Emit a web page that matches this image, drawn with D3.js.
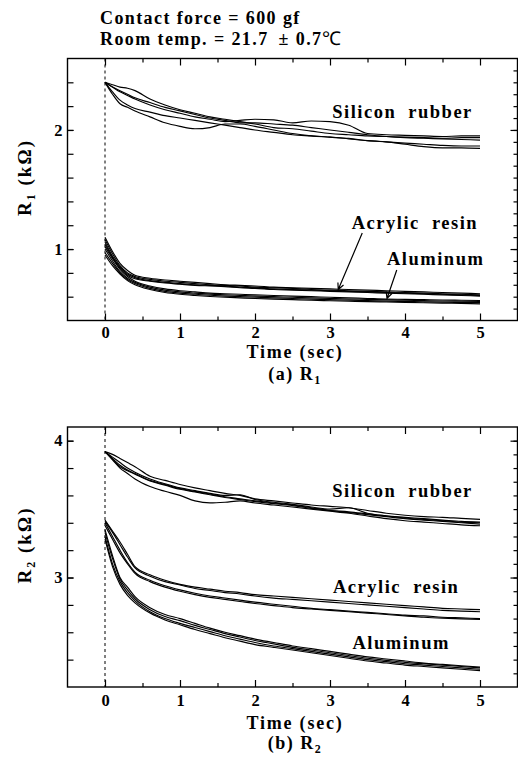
<!DOCTYPE html>
<html>
<head>
<meta charset="utf-8">
<script src="https://cdn.jsdelivr.net/npm/d3@7/dist/d3.min.js"></script>
<style>
    body { margin: 0; background: #fff; }
    svg text { font-family: "Liberation Serif", "Times New Roman", serif; font-weight: bold; fill: #000; }
</style>
</head>
<body>
<svg id="chart" width="518" height="759"></svg>
<script>
// sample times (sec), shared by every trace
var time = [0, 0.1, 0.2, 0.3, 0.4, 0.6, 0.8, 1.0, 1.2, 1.4, 1.6, 1.8, 2.0, 2.25, 2.5, 2.75, 3.0, 3.25, 3.5, 3.75, 4.0, 4.25, 4.5, 4.75, 5.0];

// (a) R1, kOhm
var r1Silicon = [
    [2.40, 2.36, 2.32, 2.29, 2.26, 2.21, 2.17, 2.14, 2.11, 2.09, 2.07, 2.08, 2.09, 2.085, 2.06, 2.075, 2.07, 2.04, 1.97, 1.96, 1.955, 1.95, 1.945, 1.95, 1.95],
    [2.40, 2.30, 2.22, 2.19, 2.16, 2.11, 2.06, 2.03, 2.01, 2.02, 2.05, 2.05, 2.03, 2.00, 1.97, 1.95, 1.94, 1.93, 1.91, 1.90, 1.88, 1.86, 1.85, 1.85, 1.845],
    [2.40, 2.32, 2.25, 2.21, 2.18, 2.15, 2.12, 2.10, 2.08, 2.06, 2.04, 2.02, 2.00, 1.98, 1.96, 1.95, 1.94, 1.925, 1.91, 1.90, 1.89, 1.88, 1.87, 1.865, 1.865],
    [2.40, 2.38, 2.36, 2.35, 2.33, 2.26, 2.21, 2.17, 2.14, 2.11, 2.09, 2.07, 2.05, 2.02, 2.01, 1.99, 1.97, 1.96, 1.95, 1.945, 1.94, 1.935, 1.93, 1.935, 1.935],
    [2.40, 2.36, 2.33, 2.30, 2.27, 2.23, 2.19, 2.16, 2.13, 2.10, 2.08, 2.06, 2.06, 2.05, 2.04, 2.02, 2.00, 1.98, 1.96, 1.945, 1.935, 1.93, 1.925, 1.92, 1.915]
];
var r1Acrylic = [
    [1.10, 0.98, 0.88, 0.82, 0.78, 0.755, 0.74, 0.73, 0.72, 0.71, 0.70, 0.695, 0.69, 0.68, 0.675, 0.67, 0.665, 0.66, 0.655, 0.65, 0.645, 0.64, 0.635, 0.63, 0.625],
    [1.08, 0.96, 0.86, 0.80, 0.77, 0.745, 0.73, 0.72, 0.71, 0.70, 0.695, 0.69, 0.68, 0.675, 0.67, 0.66, 0.655, 0.65, 0.645, 0.64, 0.635, 0.63, 0.625, 0.62, 0.615],
    [1.06, 0.94, 0.85, 0.79, 0.76, 0.735, 0.72, 0.71, 0.70, 0.695, 0.69, 0.68, 0.675, 0.665, 0.66, 0.655, 0.65, 0.645, 0.64, 0.635, 0.63, 0.625, 0.62, 0.615, 0.61],
    [1.04, 0.93, 0.84, 0.78, 0.75, 0.73, 0.715, 0.705, 0.695, 0.69, 0.685, 0.675, 0.67, 0.66, 0.655, 0.65, 0.645, 0.64, 0.635, 0.63, 0.625, 0.62, 0.615, 0.61, 0.605]
];
var r1Aluminum = [
    [1.02, 0.92, 0.83, 0.77, 0.73, 0.69, 0.665, 0.65, 0.64, 0.63, 0.625, 0.62, 0.615, 0.61, 0.605, 0.60, 0.595, 0.59, 0.585, 0.58, 0.578, 0.575, 0.572, 0.57, 0.568],
    [1.00, 0.90, 0.81, 0.755, 0.72, 0.68, 0.655, 0.64, 0.63, 0.622, 0.615, 0.61, 0.605, 0.60, 0.595, 0.59, 0.585, 0.58, 0.577, 0.573, 0.57, 0.567, 0.564, 0.562, 0.56],
    [0.97, 0.88, 0.80, 0.745, 0.71, 0.67, 0.645, 0.63, 0.62, 0.612, 0.605, 0.60, 0.595, 0.59, 0.585, 0.58, 0.575, 0.57, 0.567, 0.563, 0.56, 0.557, 0.554, 0.552, 0.55],
    [0.95, 0.86, 0.79, 0.735, 0.70, 0.66, 0.635, 0.62, 0.61, 0.602, 0.595, 0.59, 0.585, 0.58, 0.575, 0.57, 0.566, 0.562, 0.558, 0.555, 0.552, 0.549, 0.546, 0.543, 0.54]
];

// (b) R2, kOhm
var r2Silicon = [
    [3.92, 3.90, 3.87, 3.84, 3.81, 3.74, 3.71, 3.68, 3.655, 3.635, 3.615, 3.60, 3.575, 3.56, 3.545, 3.53, 3.52, 3.51, 3.49, 3.47, 3.455, 3.445, 3.44, 3.432, 3.425],
    [3.92, 3.86, 3.80, 3.76, 3.72, 3.665, 3.63, 3.60, 3.56, 3.545, 3.55, 3.56, 3.545, 3.53, 3.515, 3.50, 3.485, 3.47, 3.45, 3.43, 3.415, 3.405, 3.395, 3.385, 3.378],
    [3.92, 3.88, 3.84, 3.80, 3.77, 3.72, 3.685, 3.655, 3.635, 3.615, 3.60, 3.605, 3.57, 3.55, 3.535, 3.515, 3.50, 3.51, 3.47, 3.45, 3.435, 3.425, 3.415, 3.405, 3.40],
    [3.92, 3.87, 3.82, 3.785, 3.76, 3.71, 3.68, 3.65, 3.63, 3.61, 3.59, 3.575, 3.56, 3.545, 3.53, 3.51, 3.49, 3.475, 3.46, 3.445, 3.43, 3.42, 3.41, 3.40, 3.39],
    [3.92, 3.865, 3.81, 3.78, 3.755, 3.705, 3.675, 3.645, 3.625, 3.605, 3.585, 3.57, 3.555, 3.54, 3.525, 3.505, 3.49, 3.48, 3.465, 3.45, 3.44, 3.43, 3.42, 3.41, 3.405]
];
var r2Acrylic = [
    [3.42, 3.34, 3.26, 3.17, 3.08, 3.02, 2.98, 2.95, 2.93, 2.915, 2.90, 2.89, 2.875, 2.865, 2.855, 2.845, 2.835, 2.825, 2.815, 2.805, 2.795, 2.785, 2.775, 2.77, 2.765],
    [3.41, 3.33, 3.24, 3.15, 3.07, 3.01, 2.97, 2.945, 2.92, 2.905, 2.89, 2.88, 2.865, 2.85, 2.84, 2.83, 2.82, 2.81, 2.80, 2.79, 2.78, 2.77, 2.76, 2.755, 2.75],
    [3.40, 3.30, 3.20, 3.11, 3.04, 2.98, 2.94, 2.91, 2.885, 2.865, 2.85, 2.835, 2.82, 2.805, 2.79, 2.775, 2.765, 2.755, 2.745, 2.735, 2.725, 2.72, 2.71, 2.705, 2.70],
    [3.38, 3.28, 3.18, 3.10, 3.03, 2.97, 2.93, 2.90, 2.875, 2.855, 2.84, 2.825, 2.81, 2.795, 2.78, 2.77, 2.76, 2.75, 2.74, 2.73, 2.72, 2.71, 2.703, 2.698, 2.693]
];
var r2Aluminum = [
    [3.35, 3.16, 3.00, 2.93, 2.86, 2.78, 2.73, 2.70, 2.665, 2.63, 2.60, 2.575, 2.55, 2.525, 2.50, 2.48, 2.46, 2.44, 2.42, 2.405, 2.39, 2.375, 2.365, 2.355, 2.345],
    [3.33, 3.14, 2.99, 2.91, 2.845, 2.765, 2.715, 2.685, 2.65, 2.62, 2.59, 2.565, 2.54, 2.515, 2.49, 2.47, 2.45, 2.43, 2.41, 2.395, 2.38, 2.37, 2.36, 2.35, 2.34],
    [3.30, 3.10, 2.97, 2.89, 2.83, 2.75, 2.70, 2.665, 2.635, 2.605, 2.575, 2.55, 2.525, 2.50, 2.48, 2.46, 2.44, 2.42, 2.40, 2.385, 2.37, 2.36, 2.35, 2.34, 2.33],
    [3.28, 3.08, 2.95, 2.87, 2.815, 2.74, 2.69, 2.655, 2.62, 2.59, 2.56, 2.535, 2.51, 2.49, 2.47, 2.45, 2.43, 2.41, 2.39, 2.375, 2.36, 2.35, 2.34, 2.33, 2.32]
];

// ticks
var xTickLabels = [0, 1, 2, 3, 4, 5];
var xMinorTicks = [0.5, 1.5, 2.5, 3.5, 4.5];
var r1TickLabels = [1, 2];
var r2TickLabels = [3, 4];

var svg = d3.select("#chart");

// header text
svg.append("text").attr("x", 100).attr("y", 24)
    .style("font-size", "18px").style("letter-spacing", "1.4px")
    .text("Contact force = 600 gf");
var head2 = svg.append("text").attr("x", 100).attr("y", 45)
    .style("font-size", "18px").style("letter-spacing", "1.4px");
head2.append("tspan").text("Room temp. = 21.7");
head2.append("tspan").attr("dx", 10).text("± 0.7");
head2.append("tspan").style("font-weight", "normal").style("font-size", "19px").text("℃");

function drawPanel(p) {
    var x = d3.scaleLinear().domain([-0.5, 5.5]).range([67.5, 517.5]);
    var y = d3.scaleLinear().domain(p.yDomain).range([p.bottom, p.top]);
    var g = svg.append("g");

    // frame
    g.append("rect")
        .attr("x", x(-0.5)).attr("y", y(p.yDomain[1]))
        .attr("width", x(5.5) - x(-0.5)).attr("height", y(p.yDomain[0]) - y(p.yDomain[1]))
        .attr("fill", "none").attr("stroke", "#000").attr("stroke-width", 1.4);

    // dashed zero line
    g.append("line")
        .attr("x1", x(0)).attr("x2", x(0))
        .attr("y1", y(p.yDomain[1])).attr("y2", y(p.yDomain[0]))
        .attr("stroke", "#000").attr("stroke-width", 1).attr("stroke-dasharray", "3,3");

    function axis(gen, tr, vals, size, pad, labels) {
        var a = g.append("g").attr("transform", tr)
            .call(gen.tickValues(vals).tickSize(size).tickPadding(pad)
                .tickFormat(labels ? d3.format("d") : ""));
        a.select(".domain").remove();
        a.selectAll(".tick line").attr("stroke-width", 1.2);
        a.selectAll("text").style("font-size", "16.5px")
            .style("font-family", "'Liberation Serif', serif").style("font-weight", "bold");
        return a;
    }
    var yb = y(p.yDomain[0]), yt = y(p.yDomain[1]);
    axis(d3.axisBottom(x), "translate(0," + yb + ")", xTickLabels, -7, p.xPad, true);
    axis(d3.axisBottom(x), "translate(0," + yb + ")", xMinorTicks, -4, 0, false);
    axis(d3.axisTop(x), "translate(0," + yt + ")", xTickLabels, -7, 0, false);
    axis(d3.axisTop(x), "translate(0," + yt + ")", xMinorTicks, -4, 0, false);
    axis(d3.axisLeft(y), "translate(" + x(-0.5) + ",0)", p.yLabels, -6, 5, true);
    axis(d3.axisLeft(y), "translate(" + x(-0.5) + ",0)", p.yLeftMinor, -6, 0, false);
    axis(d3.axisRight(y), "translate(" + x(5.5) + ",0)", p.yLabels, -7, 0, false);
    axis(d3.axisRight(y), "translate(" + x(5.5) + ",0)", p.yRightMinor, -4, 0, false);

    // traces
    var line = d3.line()
        .x(function(d, i) { return x(time[i]); })
        .y(function(d) { return y(d); })
        .curve(d3.curveMonotoneX);
    p.series.forEach(function(group) {
        g.selectAll(null).data(group).enter().append("path")
            .attr("d", line)
            .attr("fill", "none").attr("stroke", "#000").attr("stroke-width", 1.15);
    });

    // material labels
    p.labels.forEach(function(l) {
        g.append("text").attr("x", x(l.t)).attr("y", y(l.v))
            .style("font-size", "18.5px").style("letter-spacing", "1.5px").style("word-spacing", "6px")
            .text(l.text);
    });

    // arrows
    p.arrows.forEach(function(a) {
        var x1 = x(a.from[0]), y1 = y(a.from[1]), x2 = x(a.to[0]), y2 = y(a.to[1]);
        var ang = Math.atan2(y2 - y1, x2 - x1), h = 7, w = 0.45;
        g.append("path")
            .attr("d", "M" + x1 + "," + y1 + "L" + x2 + "," + y2 +
                "M" + (x2 - h * Math.cos(ang - w)) + "," + (y2 - h * Math.sin(ang - w)) +
                "L" + x2 + "," + y2 +
                "L" + (x2 - h * Math.cos(ang + w)) + "," + (y2 - h * Math.sin(ang + w)))
            .attr("fill", "none").attr("stroke", "#000").attr("stroke-width", 1.2);
    });

    // axis titles
    var cy = (yt + yb) / 2 - 12;
    var yl = g.append("text")
        .attr("transform", "translate(31," + cy + ") rotate(-90)")
        .attr("text-anchor", "middle")
        .style("font-size", "19px").style("letter-spacing", "2px");
    yl.append("tspan").text("R");
    yl.append("tspan").attr("dy", 4).style("font-size", "12px").text(p.sub);
    yl.append("tspan").attr("dy", -4).text(" (k\u03a9)");

    g.append("text").attr("x", 295).attr("y", p.timeY).attr("text-anchor", "middle")
        .style("font-size", "18px").style("letter-spacing", "1.8px")
        .text("Time (sec)");
    var cap = g.append("text").attr("x", 295).attr("y", p.capY).attr("text-anchor", "middle")
        .style("font-size", "18px").style("letter-spacing", "1.5px");
    cap.append("tspan").text(p.caption + " R");
    cap.append("tspan").attr("dy", 4).style("font-size", "12px").text(p.sub);
}

drawPanel({
    yDomain: [0.4, 2.6], top: 58.5, bottom: 320.5,
    yLabels: r1TickLabels,
    yLeftMinor: d3.range(0.6, 2.5, 0.2),
    yRightMinor: d3.range(0.5, 2.55, 0.1),
    series: [r1Silicon, r1Acrylic, r1Aluminum],
    labels: [
        {text: "Silicon rubber", t: 3.03, v: 2.10},
        {text: "Acrylic resin", t: 3.29, v: 1.165},
        {text: "Aluminum", t: 3.76, v: 0.865}
    ],
    arrows: [
        {from: [3.43, 1.134], to: [3.11, 0.66]},
        {from: [3.89, 0.824], to: [3.76, 0.585]}
    ],
    sub: "1", caption: "(a)", xPad: 6, timeY: 358, capY: 380
});

drawPanel({
    yDomain: [2.2, 4.1], top: 427, bottom: 687,
    yLabels: r2TickLabels,
    yLeftMinor: d3.range(2.4, 4.05, 0.2),
    yRightMinor: d3.range(2.3, 4.05, 0.1),
    series: [r2Silicon, r2Acrylic, r2Aluminum],
    labels: [
        {text: "Silicon rubber", t: 3.03, v: 3.585},
        {text: "Acrylic resin", t: 3.04, v: 2.89},
        {text: "Aluminum", t: 3.30, v: 2.48}
    ],
    arrows: [],
    sub: "2", caption: "(b)", xPad: 7, timeY: 729, capY: 749
});
</script>
</body>
</html>
